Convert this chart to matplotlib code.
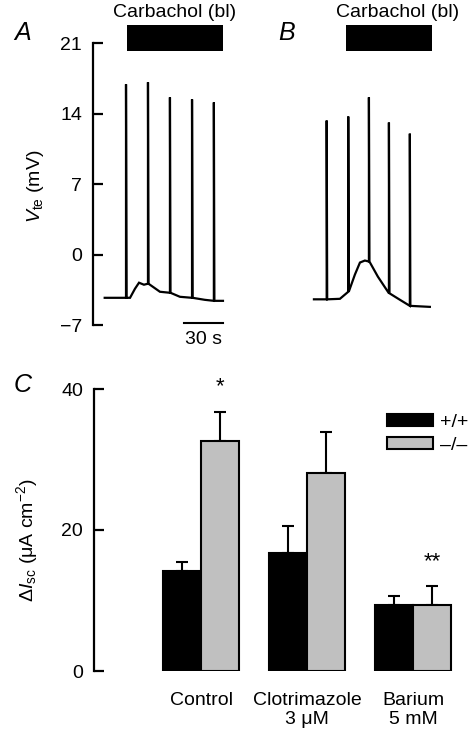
import numpy as np
import matplotlib
matplotlib.use('Agg')
import matplotlib.pyplot as plt

plt.rcParams['font.family'] = ['Liberation Sans', 'DejaVu Sans']
plt.rcParams['font.size'] = 14
plt.rcParams['mathtext.fontset'] = 'custom'
plt.rcParams['mathtext.rm'] = 'Liberation Sans'
plt.rcParams['mathtext.it'] = 'Liberation Sans:italic'
plt.rcParams['mathtext.bf'] = 'Liberation Sans:bold'

# --- trace A (+/+), time in s, voltage in mV
trace_a_t = [9, 25.4, 28.5, 32.3, 35.4, 39.2, 42.3, 51.5, 59.2, 66.9, 76.2, 86, 93, 100]
trace_a_v = [-4.3, -4.3, -4.3, -3.4, -2.8, -3.0, -2.9, -3.7, -3.8, -4.2, -4.3, -4.5, -4.6, -4.6]
spikes_a_t = [25.4, 42.3, 59.2, 76.2, 93.0]
spikes_a_peak = [16.9, 17.1, 15.6, 15.4, 15.1]
carb_a = (26, 100)

# --- trace B (-/-)
trace_b_t = [170, 179.8, 190, 196.4, 201.5, 205.4, 209.2, 212.3, 219.2, 227.7, 236.2, 243.8, 259.2]
trace_b_v = [-4.45, -4.45, -4.4, -3.7, -2.0, -0.8, -0.6, -0.7, -2.2, -3.85, -4.5, -5.1, -5.2]
spikes_b_t = [179.8, 196.4, 212.3, 227.7, 243.8]
spikes_b_peak = [13.3, 13.7, 15.6, 13.1, 12.0]
carb_b = (195, 261)

# --- panel C
groups = ['Control', 'Clotrimazole\n3 \u03bcM', 'Barium\n5 mM']
wt_mean = [14.2, 16.8, 9.3]
wt_err = [1.3, 3.8, 1.3]
ko_mean = [32.6, 28.1, 9.3]
ko_err = [4.2, 5.8, 2.7]


def with_spikes(t, v, st, peaks):
    tt, vv = list(t), list(v)
    for s, p in zip(st, peaks):
        b = np.interp(s, t, v)
        tt += [s, s, s + 0.4]
        vv += [b, p, b]
    order = np.argsort(tt, kind='stable')
    return np.array(tt)[order], np.array(vv)[order]


fig = plt.figure(figsize=(4.72, 7.35), dpi=100)
W, H = 472., 735.

# top panel
ax = fig.add_axes([93/W, 1-325/H, 347/W, 282/H])
for t, v, st, pk in [(trace_a_t, trace_a_v, spikes_a_t, spikes_a_peak),
                     (trace_b_t, trace_b_v, spikes_b_t, spikes_b_peak)]:
    x, y = with_spikes(t, v, st, pk)
    ax.plot(x, y, c='k', lw=1.6, solid_joinstyle='miter')
for c0, c1 in [carb_a, carb_b]:
    ax.fill_between([c0, c1], 20.2, 22.8, color='k', lw=0, clip_on=False)
ax.text(np.mean(carb_a), 24.0, 'Carbachol (bl)', ha='center', va='center')
ax.text(np.mean(carb_b) + 6, 24.0, 'Carbachol (bl)', ha='center', va='center')
ax.plot([70, 100], [-6.8, -6.8], c='k', lw=1.5, clip_on=False)
ax.text(85, -8.4, '30 s', ha='center', va='center')
ax.set_xlim(0, 267)
ax.set_ylim(-7, 21)
ax.set_yticks([-7, 0, 7, 14, 21])
ax.set_xticks([])
for s in ['top', 'right', 'bottom']:
    ax.spines[s].set_visible(False)
ax.spines['left'].set_linewidth(1.6)
ax.tick_params(axis='y', direction='in', length=7, width=1.6, pad=8)
fig.text(35/W, 1-186/H, r'$V_{\rm te}$ (mV)', rotation=90, ha='center', va='center')
fig.text(23/W, 1-33/H, 'A', fontsize=18, style='italic', ha='center', va='center')
fig.text(287/W, 1-33/H, 'B', fontsize=18, style='italic', ha='center', va='center')

# bottom panel
ax2 = fig.add_axes([94/W, 1-671/H, 371/W, 282/H])
pos = np.arange(len(groups))
bw = 0.358
ax2.bar(pos - bw/2, wt_mean, bw, color='k', edgecolor='k', lw=1.5, label='+/+', zorder=3)
ax2.bar(pos + bw/2, ko_mean, bw, color='#c0c0c0', edgecolor='k', lw=1.5, label='\u2013/\u2013', zorder=3)
ax2.errorbar(pos - bw/2, wt_mean, yerr=[np.zeros(3), wt_err], fmt='none', ecolor='k',
             elinewidth=1.5, capsize=4.5, capthick=1.5, zorder=2)
ax2.errorbar(pos + bw/2, ko_mean, yerr=[np.zeros(3), ko_err], fmt='none', ecolor='k',
             elinewidth=1.5, capsize=4.5, capthick=1.5, zorder=2)
ax2.text(pos[0] + bw/2, 40.3, '*', ha='center', va='center', fontsize=16)
ax2.text(pos[2] + bw/2, 15.5, '**', ha='center', va='center', fontsize=16)
ax2.set_xlim(-1.01, 2.49)
ax2.set_ylim(0, 40)
ax2.set_yticks([0, 20, 40])
ax2.set_xticks(pos)
ax2.set_xticklabels(groups)
ax2.tick_params(axis='x', length=0, pad=15)
for s in ['top', 'right', 'bottom']:
    ax2.spines[s].set_visible(False)
ax2.spines['left'].set_linewidth(1.6)
ax2.tick_params(axis='y', direction='in', length=7, width=1.6, pad=8)
ax2.legend(loc='upper left', bbox_to_anchor=(387/W, 1-414/H), bbox_transform=fig.transFigure,
           frameon=False, borderpad=0, borderaxespad=0, handlelength=2.35, handleheight=0.58,
           handletextpad=0.4, labelspacing=0.3)
fig.text(27/W, 1-540/H, '$\\Delta\\mathit{I}_{\\rm sc}$ (\u03bcA cm$^{-2}$)', rotation=90,
         ha='center', va='center')
fig.text(23/W, 1-385/H, 'C', fontsize=18, style='italic', ha='center', va='center')

fig.savefig('out.png', dpi=100)
